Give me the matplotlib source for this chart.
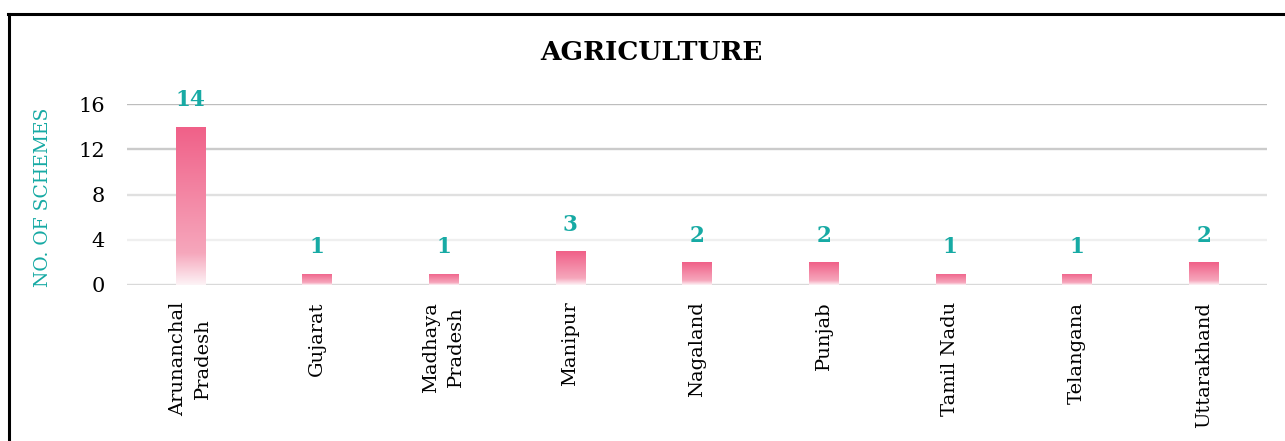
import numpy as np
import matplotlib
matplotlib.use("Agg")
import matplotlib.pyplot as plt
from matplotlib.colors import LinearSegmentedColormap
from matplotlib.lines import Line2D

# ---- data ----
categories = ["Arunanchal\nPradesh", "Gujarat", "Madhaya\nPradesh", "Manipur",
              "Nagaland", "Punjab", "Tamil Nadu", "Telangana", "Uttarakhand"]
schemes = [14, 1, 1, 3, 2, 2, 1, 1, 2]
y_ticks = [0, 4, 8, 12, 16]
title = "AGRICULTURE"
y_label = "NO. OF SCHEMES"

TEAL = "#17aaa4"
FONT = "DejaVu Serif"

W, H = 1285, 441
fig = plt.figure(figsize=(W / 100, H / 100), dpi=100)
fig.patch.set_facecolor("white")

ax = fig.add_axes([127 / W, 1 - 285 / H, 1140 / W, (285 - 104) / H])
ax.set_xlim(-0.5, len(categories) - 0.5)
ax.set_ylim(0, 16)

# gridlines with varying grey
grid_cols = {0: "#d9d9d9", 4: "#efefef", 8: "#e0e0e0", 12: "#cbcbcb", 16: "#bdbdbd"}
for t in y_ticks:
    ax.axhline(t, color=grid_cols[t], lw=1.7, zorder=0)

x = np.arange(len(categories))
bars = ax.bar(x, schemes, width=0.23, color="none", edgecolor="none", zorder=2)

cmap = LinearSegmentedColormap.from_list(
    "pinkgrad",
    [(0.0, "#fdf3f6"), (0.2, "#f6a7bc"), (1.0, "#f06088")])
grad = np.linspace(0, 1, 256).reshape(-1, 1)
for b in bars:
    x0, w, h = b.get_x(), b.get_width(), b.get_height()
    im = ax.imshow(grad, cmap=cmap, aspect="auto", origin="lower",
                   extent=[x0, x0 + w, 0, h], zorder=2, interpolation="bilinear")
    im.set_clip_path(b)

for xi, v in zip(x, schemes):
    ax.annotate(str(v), (xi, v), xytext=(0, 11), textcoords="offset points",
                ha="center", va="bottom", color=TEAL, fontsize=15.5,
                fontweight="bold", family=FONT, annotation_clip=False)

ax.set_xticks(x)
ax.set_xticklabels(categories, rotation=90, ha="center", va="top",
                   multialignment="center", linespacing=1.45,
                   family=FONT, fontsize=14)
ax.set_yticks(y_ticks)
ax.set_yticklabels([str(t) for t in y_ticks], family=FONT, fontsize=15)
ax.tick_params(axis="x", length=0, pad=12)
ax.tick_params(axis="y", length=0, pad=16)
for s in ax.spines.values():
    s.set_visible(False)

fig.text(651 / W, 1 - 53 / H, title, ha="center", va="center",
         fontsize=19, fontweight="bold", family=FONT)
fig.text(43 / W, 1 - 197 / H, y_label, ha="center", va="center",
         rotation=90, color=TEAL, fontsize=13.5, family=FONT)

# frame lines (top and left)
fig.add_artist(Line2D([8 / W, 1.0], [1 - 14 / H, 1 - 14 / H], color="black",
                      lw=2.2, transform=fig.transFigure))
fig.add_artist(Line2D([9 / W, 9 / W], [0, 1 - 14 / H], color="black",
                      lw=2.2, transform=fig.transFigure))

fig.savefig("out.png", dpi=100)
